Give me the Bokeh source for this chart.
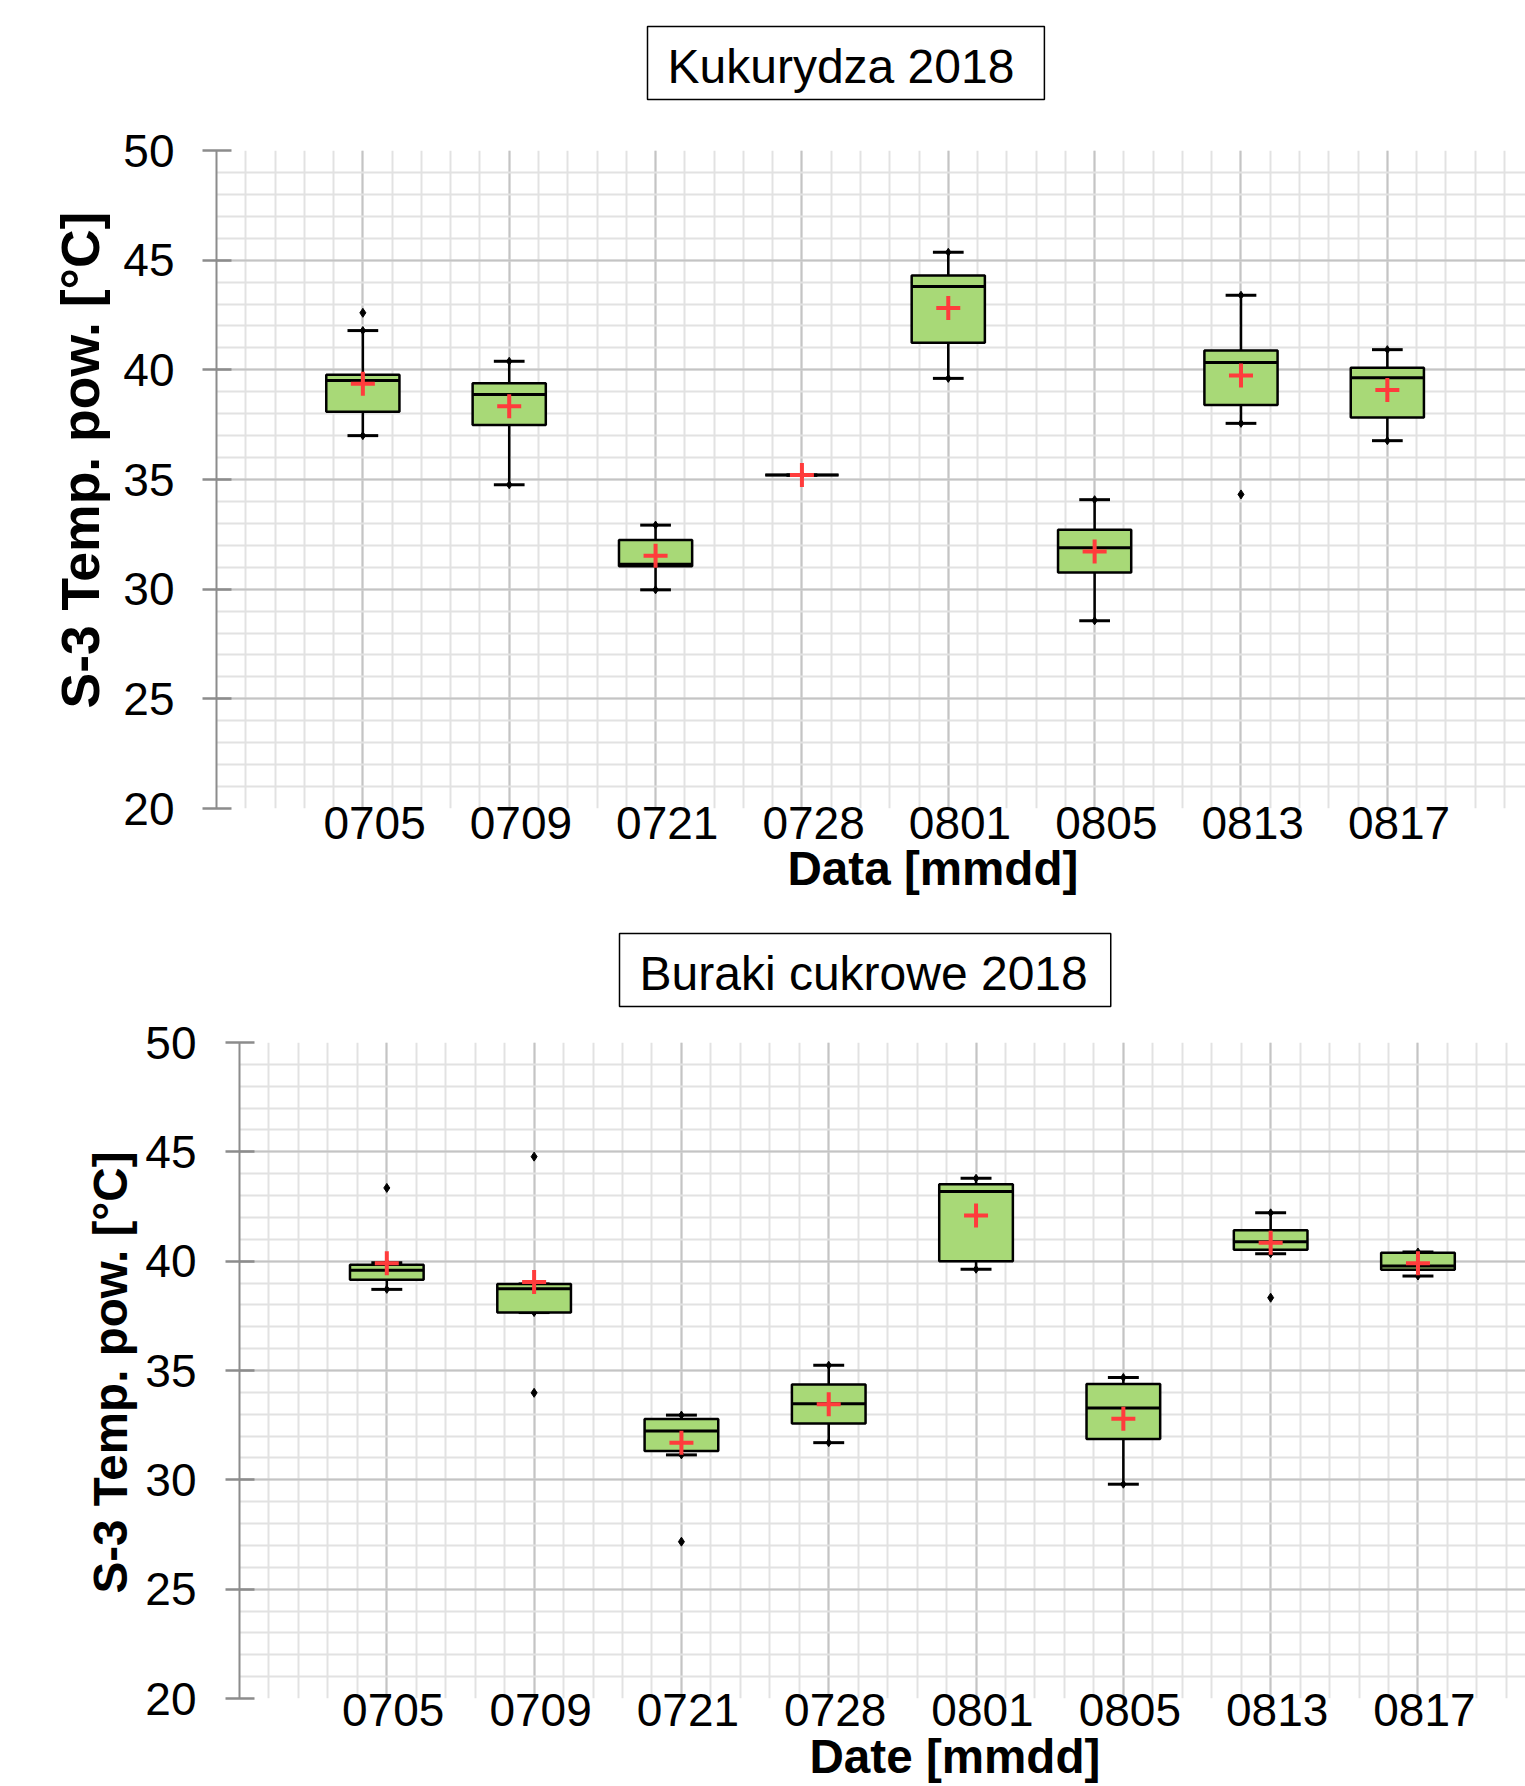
from bokeh.plotting import figure
from bokeh.models import (Range1d, FixedTicker, CustomJSTickFormatter, Title, ColumnDataSource)
from bokeh.layouts import column
from bokeh.embed import file_html
from bokeh.resources import INLINE

# ---------------- data ----------------
dates = ["0705", "0709", "0721", "0728", "0801", "0805", "0813", "0817"]

# Kukurydza 2018
k_low = [37.0, 34.76, 29.97, 35.2, 39.61, 28.56, 37.56, 36.77]
k_q1 = [38.09, 37.49, 31.04, 35.2, 41.23, 30.76, 38.40, 37.83]
k_med = [39.51, 38.87, 31.14, 35.2, 43.80, 31.89, 40.34, 39.64]
k_q3 = [39.78, 39.39, 32.24, 35.2, 44.30, 32.71, 40.88, 40.10]
k_high = [41.79, 40.39, 32.92, 35.2, 45.36, 34.08, 43.40, 40.92]
k_mean = [39.36, 38.34, 31.52, 35.2, 42.82, 31.72, 39.74, 39.08]
k_out_date = ["0705", "0813"]
k_out_val = [42.6, 34.32]

# Buraki cukrowe 2018
b_low = [38.71, 37.65, 31.14, 31.70, 39.63, 29.80, 40.34, 39.32]
b_q1 = [39.15, 37.65, 31.32, 32.58, 40.00, 31.87, 40.52, 39.61]
b_med = [39.59, 38.74, 32.23, 33.48, 43.19, 33.28, 40.89, 39.78]
b_q3 = [39.84, 38.96, 32.78, 34.36, 43.52, 34.38, 41.41, 40.39]
b_high = [39.93, 38.96, 32.96, 35.24, 43.79, 34.68, 42.21, 40.42]
b_mean = [39.91, 39.05, 31.70, 33.46, 42.09, 32.79, 40.84, 39.91]
b_out_date = ["0705", "0709", "0709", "0721", "0813"]
b_out_val = [43.35, 44.78, 33.98, 27.17, 38.33]

y_ticks = [20, 25, 30, 35, 40, 45, 50]
y_label = "S-3 Temp. pow. [°C]"

FONT = "Liberation Sans"
BOX_FILL = "#a8d977"
MEAN_COLOR = "#ff3c3c"
MAJOR_GRID = "#c4c4c4"
MINOR_GRID = "#e2e2e2"
AXIS_GRAY = "#8c8c8c"


def make_chart(title, xlabel, low, q1, med, q3, high, mean, out_date, out_val,
               height, left, top, bottom, xmax, label_shift, xtick_standoff, ytick_standoff,
               title_off, title_pad, spacer_standoff,
               ylab_size, ylab_off, ylab_standoff, xlab_off, xlab_standoff):
    p = figure(width=1525, height=height, x_range=Range1d(0, xmax), y_range=Range1d(20, 50),
               output_backend="svg", toolbar_location=None,
               min_border_left=left, min_border_right=0, min_border_top=top,
               min_border_bottom=bottom, frame_align=False)
    p.outline_line_color = None
    p.background_fill_color = "white"
    p.border_fill_color = "white"

    # spacer between frame and boxed title (nearest to the frame)
    p.add_layout(Title(text=" ", text_font=FONT, text_font_size="10px",
                       standoff=spacer_standoff, text_color="white"), "above")

    # boxed title (outermost)
    p.title = Title(text=title, align="left", offset=title_off, standoff=0,
                    vertical_align="bottom", text_font=FONT, text_font_style="normal",
                    text_font_size="48px", text_color="black",
                    border_line_color="black", border_line_width=1.5,
                    background_fill_color="white", padding=title_pad)
    p.title_location = "above"

    # y label as a left title
    p.add_layout(Title(text=y_label, align="left", offset=ylab_off,
                       standoff=ylab_standoff, vertical_align="bottom",
                       text_font=FONT, text_font_style="bold",
                       text_font_size=f"{ylab_size}px", text_color="black"), "left")

    # x label as a below title
    p.add_layout(Title(text=xlabel, align="left", offset=xlab_off, standoff=xlab_standoff,
                       vertical_align="top", text_font=FONT, text_font_style="bold",
                       text_font_size="47.6px", text_color="black"), "below")

    # axes
    xs = list(range(1, len(dates) + 1))
    xa = p.xaxis[0]
    xa.ticker = FixedTicker(ticks=[x + label_shift for x in xs])
    xa.formatter = CustomJSTickFormatter(
        args=dict(labels=dates, off=label_shift),
        code="const i = Math.round(tick - off) - 1; return (i >= 0 && i < labels.length) ? labels[i] : '';")
    xa.axis_line_color = None
    xa.major_tick_line_color = None
    xa.minor_tick_line_color = None
    xa.major_tick_in = 0
    xa.major_tick_out = 0
    xa.major_label_standoff = xtick_standoff
    xa.major_label_text_font = FONT
    xa.major_label_text_font_size = "46px"
    xa.major_label_text_color = "black"

    ya = p.yaxis[0]
    ya.ticker = FixedTicker(ticks=y_ticks, minor_ticks=list(range(20, 51)))
    ya.axis_line_color = AXIS_GRAY
    ya.axis_line_width = 2
    ya.major_tick_line_color = AXIS_GRAY
    ya.major_tick_line_width = 2.5
    ya.major_tick_in = 15
    ya.major_tick_out = 14
    ya.minor_tick_line_color = None
    ya.major_label_standoff = ytick_standoff
    ya.major_label_text_font = FONT
    ya.major_label_text_font_size = "46px"
    ya.major_label_text_color = "black"

    # grids
    p.xgrid.ticker = FixedTicker(ticks=list(range(0, 10)),
                                 minor_ticks=[i * 0.2 for i in range(0, 50)])
    p.xgrid.grid_line_color = MAJOR_GRID
    p.xgrid.grid_line_width = 2
    p.xgrid.minor_grid_line_color = MINOR_GRID
    p.xgrid.minor_grid_line_width = 2
    p.ygrid.grid_line_color = MAJOR_GRID
    p.ygrid.grid_line_width = 2
    p.ygrid.minor_grid_line_color = MINOR_GRID
    p.ygrid.minor_grid_line_width = 2
    p.xgrid.level = "underlay"
    p.ygrid.level = "underlay"

    # box plot
    src = ColumnDataSource(dict(x=xs, low=low, q1=q1, med=med, q3=q3, high=high, mean=mean,
                                xl=[x - 0.25 for x in xs], xr=[x + 0.25 for x in xs],
                                cl=[x - 0.105 for x in xs], cr=[x + 0.105 for x in xs]))
    p.segment(x0="x", y0="q3", x1="x", y1="high", source=src, line_color="black", line_width=2.5)
    p.segment(x0="x", y0="q1", x1="x", y1="low", source=src, line_color="black", line_width=2.5)
    p.segment(x0="cl", y0="high", x1="cr", y1="high", source=src, line_color="black", line_width=3)
    p.segment(x0="cl", y0="low", x1="cr", y1="low", source=src, line_color="black", line_width=3)
    p.scatter(x="x", y="high", source=src, marker="diamond", size=8, color="black")
    p.scatter(x="x", y="low", source=src, marker="diamond", size=8, color="black")
    p.vbar(x="x", width=0.5, top="q3", bottom="q1", source=src, fill_color=BOX_FILL,
           line_color="black", line_width=2.5)
    p.segment(x0="xl", y0="med", x1="xr", y1="med", source=src, line_color="black", line_width=3)
    p.scatter(x="x", y="mean", source=src, marker="cross", size=24, line_width=4,
              line_color=MEAN_COLOR)

    ox = [dates.index(d) + 1 for d in out_date]
    p.scatter(x=ox, y=out_val, marker="diamond", size=9, color="black")
    return p


p1 = make_chart("Kukurydza 2018", "Data [mmdd]", k_low, k_q1, k_med, k_q3, k_high, k_mean,
                k_out_date, k_out_val,
                height=928, left=216, top=150, bottom=120, xmax=8.944, label_shift=0.08,
                xtick_standoff=-2, ytick_standoff=28,
                title_off=431, title_pad=dict(left=20, right=30, top=13, bottom=7),
                spacer_standoff=38,
                ylab_size=53.5, ylab_off=100, ylab_standoff=22, xlab_off=571, xlab_standoff=0)
p2 = make_chart("Buraki cukrowe 2018", "Date [mmdd]", b_low, b_q1, b_med, b_q3, b_high, b_mean,
                b_out_date, b_out_val,
                height=858, left=239, top=114, bottom=87, xmax=8.73, label_shift=0.044,
                xtick_standoff=-5, ytick_standoff=29,
                title_off=380, title_pad=dict(left=20, right=23, top=13, bottom=7),
                spacer_standoff=23,
                ylab_size=47.6, ylab_off=105, ylab_standoff=12, xlab_off=570, xlab_standoff=3)

layout = column(p1, p2, spacing=0)
open("out.html", "w").write(file_html(layout, INLINE))
